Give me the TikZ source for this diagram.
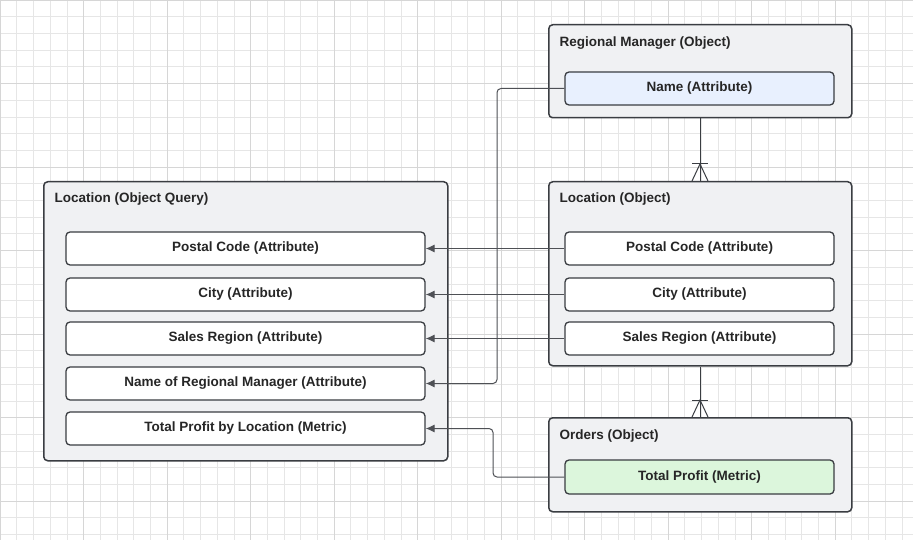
\documentclass[tikz,border=0pt]{standalone}
\usepackage{fontspec}
\setmainfont{Liberation Sans}
\usetikzlibrary{arrows.meta}
\definecolor{grid}{HTML}{E6E6E6}
\definecolor{gridm}{HTML}{D6D6D6}
\definecolor{edge}{HTML}{3A3D42}
\definecolor{boxf}{HTML}{F0F1F3}
\definecolor{blue}{HTML}{E8F0FE}
\definecolor{green}{HTML}{DCF6DC}
\begin{document}
\begin{tikzpicture}[x=1pt,y=-1pt,
 obj/.style={draw=edge,line width=1.5pt,fill=boxf,rounded corners=4pt},
 att/.style={draw=edge,line width=1.3pt,fill=white,rounded corners=4pt,font=\fontsize{13.5}{15}\selectfont\bfseries,text=black!85},
 ttl/.style={anchor=west,font=\fontsize{13.5}{15}\selectfont\bfseries,text=black!85},
 con/.style={draw=edge!90,line width=1pt,rounded corners=4pt,-{Latex[length=9pt,width=8pt]}},
 rel/.style={draw=edge,line width=1pt}]
\useasboundingbox (0,0) rectangle (913,540);
\fill[white] (0,0) rectangle (913,540);
\foreach \i in {0,...,55} {\draw[grid,line width=0.6pt] (\i*16.7,0) -- (\i*16.7,540);}
\foreach \i in {0,...,33} {\draw[grid,line width=0.6pt] (0,\i*16.7) -- (913,\i*16.7);}
\foreach \i in {0,...,11} {\draw[gridm,line width=0.8pt] (\i*83.5,0) -- (\i*83.5,540);}
\foreach \i in {0,...,6} {\draw[gridm,line width=0.8pt] (0,\i*83.5) -- (913,\i*83.5);}
% objects
\node[obj,minimum width=303pt,minimum height=93pt,anchor=north west] (rm) at (548,24) {};
\node[ttl] (rmt) at (556,43) {Regional Manager (Object)};
\node[att,fill=blue,minimum width=269pt,minimum height=33pt] (rmn) at (699.5,88.5) {Name (Attribute)};
\node[obj,minimum width=303pt,minimum height=184pt,anchor=north west] (lo) at (548,181) {};
\node[ttl] (lot) at (556,199) {Location (Object)};
\node[att,minimum width=269pt,minimum height=33pt] (lp) at (699.5,248.5) {Postal Code (Attribute)};
\node[att,minimum width=269pt,minimum height=33pt] (lc) at (699.5,294.5) {City (Attribute)};
\node[att,minimum width=269pt,minimum height=33pt] (ls) at (699.5,338.5) {Sales Region (Attribute)};
\node[obj,minimum width=303pt,minimum height=94pt,anchor=north west] (or) at (548,417) {};
\node[ttl] (ort) at (556,436) {Orders (Object)};
\node[att,fill=green,minimum width=269pt,minimum height=34pt] (tp) at (699.5,477) {Total Profit (Metric)};
\node[obj,minimum width=404pt,minimum height=279pt,anchor=north west] (q) at (43,181) {};
\node[ttl] (qt) at (51,199) {Location (Object Query)};
\node[att,minimum width=359pt,minimum height=33pt] (qp) at (245.5,248.5) {Postal Code (Attribute)};
\node[att,minimum width=359pt,minimum height=33pt] (qc) at (245.5,294.5) {City (Attribute)};
\node[att,minimum width=359pt,minimum height=33pt] (qs) at (245.5,338.5) {Sales Region (Attribute)};
\node[att,minimum width=359pt,minimum height=33pt] (qn) at (245.5,383.5) {Name of Regional Manager (Attribute)};
\node[att,minimum width=359pt,minimum height=33pt] (qm) at (245.5,428.5) {Total Profit by Location (Metric)};
% connectors
\draw[con] (lp.west) -- (qp.east);
\draw[con] (lc.west) -- (qc.east);
\draw[con] (ls.west) -- (qs.east);
\draw[con] (rmn.west) -- (497,88.5) -- (497,383.5) -- (qn.east);
\draw[con] (tp.west) -- (493,477) -- (493,428.5) -- (qm.east);
% relations
\coordinate (a1) at (700,181);
\coordinate (a2) at (700,417);
\draw[rel] (rm.south -| a1) -- (a1);
\draw[rel] (692,164) -- (708,164);
\draw[rel] (692,181) -- (700,164) -- (708,181);
\draw[rel] (lo.south -| a2) -- (a2);
\draw[rel] (692,400) -- (708,400);
\draw[rel] (692,417) -- (700,400) -- (708,417);
\end{tikzpicture}
\end{document}
